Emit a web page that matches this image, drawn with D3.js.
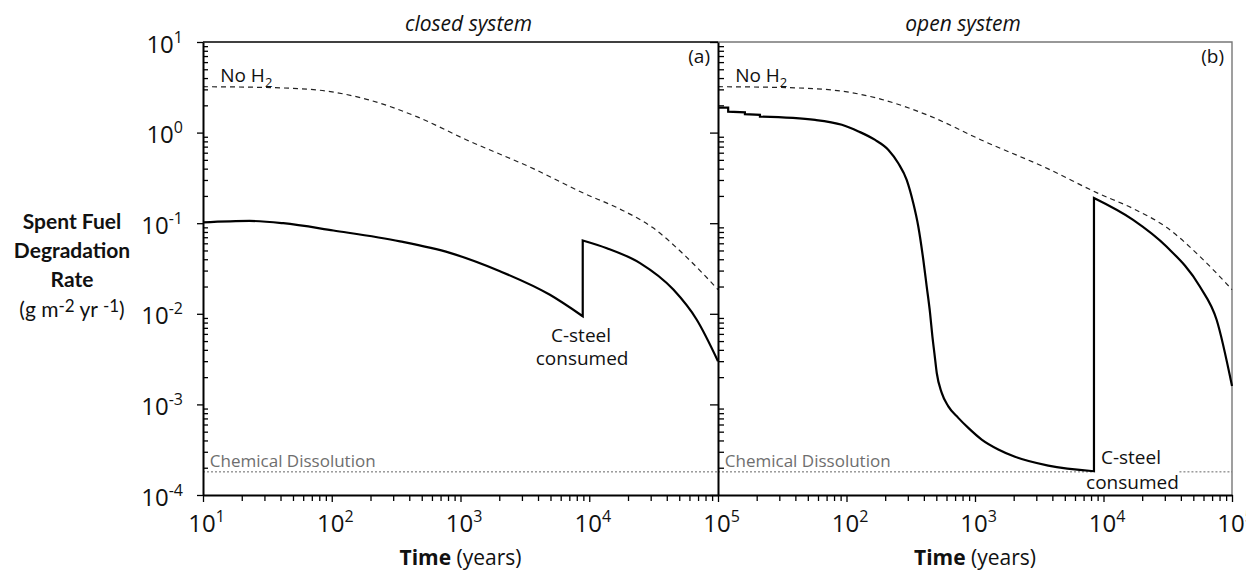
<!DOCTYPE html>
<html lang="en">
<head>
<meta charset="UTF-8">
<title>spent fuel degradation rate</title>
<script src="https://cdn.jsdelivr.net/npm/d3@7"></script>
<style>
  body { margin: 0; background: #fff; }
  text { font-family: "Open Sans", sans-serif; fill: #111; }
</style>
</head>
<body>
<svg></svg>
<script>
// time in years, rate in g m-2 yr-1
var noH2Time = [10, 30, 76, 187, 457, 1117, 3680, 9000, 17000, 30900, 56200, 100000];
var noH2Rate = [3.21, 3.15, 2.96, 2.33, 1.50, 0.83, 0.40, 0.215, 0.145, 0.09, 0.043, 0.0185];

var closedTime = [10, 23, 42, 103, 339, 828, 2026, 4950, 8900, 8900, 13700, 24800, 45000, 68400, 100000];
var closedRate = [0.102, 0.106, 0.100, 0.083, 0.063, 0.047, 0.0295, 0.0162, 0.0094, 0.0645, 0.053, 0.0363, 0.0185, 0.0086, 0.0030];

var openTime = [10, 12, 12, 16.2, 16.2, 21.2, 21.2, 57, 92, 124, 167, 212, 253, 294, 331, 362, 396, 421, 447, 466, 483, 504, 551, 620, 741, 887, 1127, 1518, 2047, 3715, 8430, 8430, 17000, 30900, 56200, 75900, 100000];
var openRate = [1.89, 1.89, 1.70, 1.67, 1.60, 1.57, 1.50, 1.38, 1.22, 1.03, 0.83, 0.644, 0.459, 0.301, 0.166, 0.092, 0.0395, 0.020, 0.0102, 0.00563, 0.00369, 0.00222, 0.00134, 0.00095, 0.00071, 0.00055, 0.000409, 0.000318, 0.000264, 0.000211, 0.000183, 0.19, 0.109, 0.0553, 0.020, 0.0086, 0.0016];

var chemRate = 1.8e-4;
var chemClosedSpans = [[10, 100000]];
var chemOpenSpans = [[10, 8430], [39000, 100000]];

var xTicks = [1e1, 1e2, 1e3, 1e4, 1e5];
var xTicksOpen = [1e2, 1e3, 1e4, 1e5];
var yTicks = [1e-4, 1e-3, 1e-2, 1e-1, 1e0, 1e1];
var panelTitles = ['closed system', 'open system'];
var panelTags = ['(a)', '(b)'];

var width = 1246, height = 570;

var svg = d3.select('svg')
  .attr('width', width)
  .attr('height', height);

var xClosed = d3.scaleLog().domain([10, 1e5]).range([203, 718]);
var xOpen = d3.scaleLog().domain([10, 1e5]).range([718, 1232]);
var y = d3.scaleLog().domain([1e-4, 10]).range([495, 42]);

function minorTicks(lo, hi) {
  var out = [];
  for (var e = lo; e < hi; e++) {
    for (var k = 2; k < 10; k++) out.push(k * Math.pow(10, e));
  }
  return out;
}
var xMinor = minorTicks(1, 5);
var yMinor = minorTicks(-4, 1);

function powerLabel(sel) {
  sel.each(function (d) {
    var t = d3.select(this);
    t.text(null);
    t.append('tspan').text('10');
    t.append('tspan').attr('dy', -10).attr('font-size', '16px')
      .text(Math.round(Math.log10(d)));
  });
}

function styleAxis(g) {
  g.select('.domain').attr('stroke', '#000').attr('stroke-width', 2);
  g.selectAll('.tick line').attr('stroke', '#000').attr('stroke-width', 1.3);
}

// split a series where time repeats (vertical jumps), keep them one path
function seriesPath(times, rates, x) {
  var line = d3.line()
    .x(function (d) { return x(d[0]); })
    .y(function (d) { return y(d[1]); })
    .curve(d3.curveMonotoneX);
  var segs = [], cur = [];
  times.forEach(function (t, i) {
    if (i > 0 && t === times[i - 1]) { segs.push(cur); cur = []; }
    cur.push([t, rates[i]]);
  });
  segs.push(cur);
  return segs.map(function (s, i) {
    var p = line(s);
    return i === 0 ? p : 'L' + p.slice(1);
  }).join('');
}

// frames
svg.append('line')
  .attr('x1', xClosed(10)).attr('x2', xClosed(1e5))
  .attr('y1', y(10)).attr('y2', y(10))
  .attr('stroke', '#000').attr('stroke-width', 1.6);
svg.append('path')
  .attr('d', 'M' + xOpen(10) + ',' + y(10) + 'H' + xOpen(1e5) + 'V' + y(1e-4))
  .attr('fill', 'none').attr('stroke', '#777').attr('stroke-width', 1.4);

// chemical dissolution level
chemClosedSpans.forEach(function (s) {
  svg.append('line')
    .attr('x1', xClosed(s[0])).attr('x2', xClosed(s[1]))
    .attr('y1', y(chemRate)).attr('y2', y(chemRate))
    .attr('stroke', '#666').attr('stroke-width', 1).attr('stroke-dasharray', '2,2');
});
chemOpenSpans.forEach(function (s) {
  svg.append('line')
    .attr('x1', xOpen(s[0])).attr('x2', xOpen(s[1]))
    .attr('y1', y(chemRate)).attr('y2', y(chemRate))
    .attr('stroke', '#666').attr('stroke-width', 1).attr('stroke-dasharray', '2,2');
});

// no H2 curves
[xClosed, xOpen].forEach(function (x) {
  svg.append('path')
    .attr('d', seriesPath(noH2Time, noH2Rate, x))
    .attr('fill', 'none')
    .attr('stroke', '#222')
    .attr('stroke-width', 1.2)
    .attr('stroke-dasharray', '5,4');
});

svg.append('path')
  .attr('d', seriesPath(closedTime, closedRate, xClosed))
  .attr('fill', 'none').attr('stroke', '#000').attr('stroke-width', 2.2)
  .attr('stroke-linejoin', 'miter');

svg.append('path')
  .attr('d', seriesPath(openTime, openRate, xOpen))
  .attr('fill', 'none').attr('stroke', '#000').attr('stroke-width', 2.2)
  .attr('stroke-linejoin', 'miter');

// x axes
var gxc = svg.append('g')
  .attr('transform', 'translate(0,' + y(1e-4) + ')')
  .call(d3.axisBottom(xClosed).tickValues(xTicks).tickSize(7).tickSizeOuter(0).tickPadding(13));
gxc.selectAll('.tick text').call(powerLabel);
svg.append('g')
  .attr('transform', 'translate(0,' + y(1e-4) + ')')
  .call(d3.axisBottom(xClosed).tickValues(xMinor).tickSize(6).tickFormat(''))
  .call(function (g) { g.select('.domain').remove(); })
  .call(styleAxis);

var gxo = svg.append('g')
  .attr('transform', 'translate(0,' + y(1e-4) + ')')
  .call(d3.axisBottom(xOpen).tickValues(xTicksOpen).tickSize(7).tickSizeOuter(0).tickPadding(13));
gxo.selectAll('.tick text').call(powerLabel);
svg.append('g')
  .attr('transform', 'translate(0,' + y(1e-4) + ')')
  .call(d3.axisBottom(xOpen).tickValues(xMinor).tickSize(6).tickFormat(''))
  .call(function (g) { g.select('.domain').remove(); })
  .call(styleAxis);

[gxc, gxo].forEach(function (g) {
  styleAxis(g);
  g.selectAll('.tick text')
    .attr('font-family', '"Open Sans", sans-serif')
    .attr('font-size', '24px')
    .attr('fill', '#111')
    .attr('dx', 3);
});

// y axes
var gy = svg.append('g')
  .attr('transform', 'translate(' + xClosed(10) + ',0)')
  .call(d3.axisLeft(y).tickValues(yTicks).tickSize(6).tickSizeOuter(0).tickPadding(14));
gy.selectAll('.tick text').call(powerLabel);
gy.selectAll('.tick text')
  .attr('font-family', '"Open Sans", sans-serif')
  .attr('font-size', '24px')
  .attr('fill', '#111')
  .attr('dy', '0.42em');
styleAxis(gy);
svg.append('g')
  .attr('transform', 'translate(' + xClosed(10) + ',0)')
  .call(d3.axisRight(y).tickValues(yMinor).tickSize(5).tickFormat(''))
  .call(function (g) { g.select('.domain').remove(); })
  .call(styleAxis);

svg.append('g')
  .attr('transform', 'translate(' + xOpen(10) + ',0)')
  .call(d3.axisLeft(y).tickValues(yTicks).tickSize(8).tickSizeOuter(0).tickFormat(''))
  .call(styleAxis);
svg.append('g')
  .attr('transform', 'translate(' + xOpen(10) + ',0)')
  .call(d3.axisRight(y).tickValues(yMinor).tickSize(6).tickFormat(''))
  .call(function (g) { g.select('.domain').remove(); })
  .call(styleAxis);

// titles
[xClosed, xOpen].forEach(function (x, i) {
  var cx = (x.range()[0] + x.range()[1]) / 2;
  svg.append('text')
    .attr('x', cx + (i === 0 ? 8 : -12)).attr('y', 31)
    .attr('text-anchor', 'middle')
    .attr('font-style', 'italic')
    .attr('font-size', '21px')
    .text(panelTitles[i]);
  svg.append('text')
    .attr('x', x.range()[1] - 8).attr('y', 63)
    .attr('text-anchor', 'end')
    .attr('font-family', '"Liberation Serif", serif')
    .attr('font-size', '19px')
    .text(panelTags[i]);

  var t = svg.append('text')
    .attr('x', cx).attr('y', 565)
    .attr('text-anchor', 'middle')
    .attr('font-size', '21px');
  t.append('tspan').attr('font-weight', 'bold').text('Time');
  t.append('tspan').text(' (years)');

  var nh = svg.append('text')
    .attr('x', x(13.6)).attr('y', y(3.62))
    .attr('font-size', '19px');
  nh.append('tspan').text('No H');
  nh.append('tspan').attr('font-size', '13px').attr('dy', 5).text('2');

  svg.append('text')
    .attr('x', x(11.3)).attr('y', y(2.06e-4))
    .attr('font-size', '17px')
    .style('fill', '#6e6e6e')
    .text('Chemical Dissolution');
});

// C-steel notes
svg.append('text')
  .attr('x', xClosed(8630)).attr('y', y(0.0049))
  .attr('text-anchor', 'middle').attr('font-size', '19px').text('C-steel');
svg.append('text')
  .attr('x', xClosed(8800)).attr('y', y(0.00275))
  .attr('text-anchor', 'middle').attr('font-size', '19px').text('consumed');
svg.append('text')
  .attr('x', xOpen(9550)).attr('y', y(2.2e-4))
  .attr('font-size', '19px').text('C-steel');
svg.append('text')
  .attr('x', xOpen(16800)).attr('y', y(1.16e-4))
  .attr('text-anchor', 'middle').attr('font-size', '19px').text('consumed');

// y axis title
var yTitle = ['Spent Fuel', 'Degradation', 'Rate'];
yTitle.forEach(function (s, i) {
  svg.append('text')
    .attr('x', 72).attr('y', 229 + i * 29)
    .attr('text-anchor', 'middle')
    .style('font-family', 'Lato, sans-serif')
    .attr('font-weight', 'bold')
    .attr('font-size', '21px')
    .text(s);
});
var unit = svg.append('text')
  .attr('x', 72).attr('y', 317)
  .attr('text-anchor', 'middle')
  .style('font-family', 'Lato, sans-serif')
  .attr('font-size', '21px');
unit.append('tspan').text('(g m');
unit.append('tspan').attr('dy', -5).attr('font-size', '17px').text('-2');
unit.append('tspan').attr('dy', 5).text(' yr ');
unit.append('tspan').attr('dy', -5).attr('font-size', '17px').text('-1');
unit.append('tspan').attr('dy', 5).text(')');
</script>
</body>
</html>
